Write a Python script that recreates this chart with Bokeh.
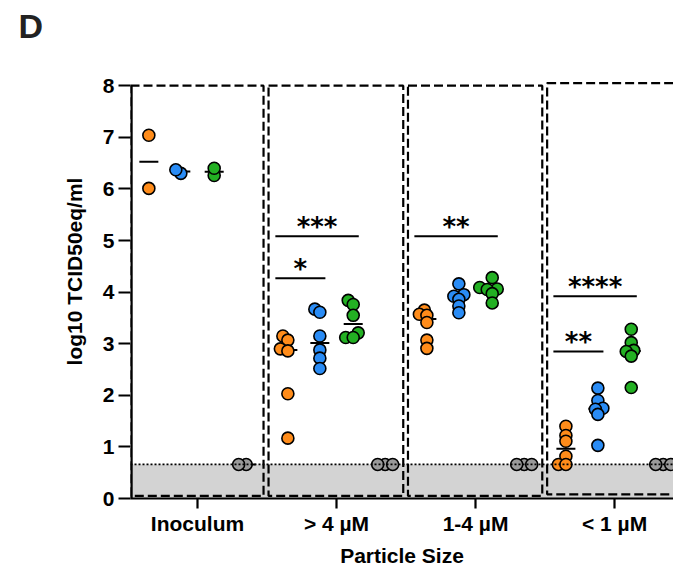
import numpy as np
from bokeh.plotting import figure
from bokeh.models import Range1d, FixedTicker, Span
from bokeh.core.properties import value
from bokeh.embed import file_html
from bokeh.resources import INLINE

# ---------------- data ----------------
categories = ["Inoculum", "> 4 µM", "1-4 µM", "< 1 µM"]
orange = [[7.04, 6.01],
          [3.15, 3.07, 2.90, 2.86, 2.03, 1.17],
          [3.65, 3.57, 3.55, 3.41, 3.07, 2.91],
          [1.40, 1.22, 1.11, 0.82, 0.66, 0.66]]
blue = [[6.30, 6.37],
        [3.67, 3.61, 3.15, 2.88, 2.72, 2.52],
        [4.16, 3.95, 3.92, 3.86, 3.73, 3.60],
        [2.14, 1.90, 1.75, 1.73, 1.63, 1.03]]
green = [[6.26, 6.40],
         [3.84, 3.76, 3.55, 3.21, 3.12, 3.12],
         [4.28, 4.09, 4.06, 4.05, 3.97, 3.79],
         [3.28, 3.02, 2.87, 2.85, 2.76, 2.15]]
gray = [[0.66, 0.66],
        [0.66, 0.66, 0.66],
        [0.66, 0.66, 0.66],
        [0.66, 0.66, 0.66]]
lod = 0.66
y_ticks = [0, 1, 2, 3, 4, 5, 6, 7, 8]

sig_cat = [1, 1, 2, 3, 3]
sig_to = ["green", "blue", "green", "green", "blue"]
sig_y = [5.08, 4.27, 5.08, 3.92, 2.85]
sig_label = ["***", "*", "**", "****", "**"]

# ---------------- layout / style ----------------
W, H = 673, 574
BL, BR, BT, BB = 130, 0, 44, 76
PX_PER_Y = 51.6
X0, X1 = -0.482, 3.424
Y0 = 0.0
Y1 = (H - BT - BB) / PX_PER_Y
Y_TOP = y_ticks[-1]
FONT = "Liberation Sans"

series = [("orange", orange, "#FF8C1A", -0.35),
          ("blue", blue, "#2A8CF5", -0.12),
          ("green", green, "#23B023", 0.12),
          ("gray", gray, "#9A9A9A", 0.35)]
offsets = {name: off for name, _, _, off in series}

frame_w = W - BL - BR
frame_h = H - BT - BB
px_x = frame_w / (X1 - X0)
px_y = frame_h / (Y1 - Y0)


def swarm(vals, step=2.5, mind=5.5):
    vals = np.asarray(vals, dtype=float)
    order = np.argsort(vals)
    placed = []
    offs = np.zeros(len(vals))
    cands = [0]
    for k in range(1, 8):
        cands += [-k, k]
    for i in order:
        yy = vals[i] * px_y
        best = None
        best_score = -1
        for k in cands:
            ox = k * step
            d = min([np.hypot(ox - a, yy - b) for a, b in placed], default=1e9)
            if d >= mind:
                best = ox
                break
            if d > best_score:
                best_score, best = d, ox
        placed.append((best, yy))
        offs[i] = best / px_x
    return offs


p = figure(width=W, height=H, x_range=Range1d(X0, X1), y_range=Range1d(Y0, Y1),
           output_backend="svg", toolbar_location=None,
           min_border_left=BL, min_border_right=BR, min_border_top=BT, min_border_bottom=BB)
p.outline_line_color = None
p.grid.visible = False
p.background_fill_color = "white"

p.title.text = "D"
p.title.align = "left"
p.title.offset = 18 - BL
p.title.text_font = FONT
p.title.text_font_style = "bold"
p.title.text_font_size = "34px"
p.title.text_color = "#222222"
p.title.standoff = 0

# LOD band and dotted line
p.quad(left=[X0 - 1], right=[X1 + 1], bottom=[0], top=[lod], fill_color="#D3D3D3", line_color=None)
p.add_layout(Span(location=lod, dimension="width", line_color="black", line_width=1.8, line_dash="2 2"))

# dashed panel boxes
box_left = [X0, 1 - 0.489, 2 - 0.486, 3 - 0.485]
box_right = [0.475, 1 + 0.48, 2 + 0.48, 4.0]
box_bottom = [0.05, 0.05, 0.05, 0.08]
box_top = [Y_TOP, Y_TOP, Y_TOP, Y_TOP + 0.05]
p.quad(left=box_left, right=box_right, bottom=box_bottom, top=box_top,
       fill_alpha=0, line_color="black", line_width=2.2, line_dash="9 4")

# y axis line drawn only from 0 to 8 (frame-clipped, so double width)
p.segment(x0=[X0], x1=[X0], y0=[0], y1=[Y_TOP], line_color="black", line_width=4.4)

# significance bars
bx0 = [c + offsets["orange"] - 0.09 for c in sig_cat]
bx1 = [c + offsets[t] + 0.04 for c, t in zip(sig_cat, sig_to)]
p.segment(x0=bx0, x1=bx1, y0=sig_y, y1=sig_y, line_color="black", line_width=2)
p.text(x=[(a + b) / 2 for a, b in zip(bx0, bx1)], y=sig_y, text=sig_label,
       text_font=value("DejaVu Sans"), text_font_style="bold", text_font_size="26px",
       text_align="center", text_baseline="alphabetic", y_offset=-9, text_color="black")

# medians + points
for name, data, color, off in series:
    mx, my = [], []
    px_, py_ = [], []
    for ci, vals in enumerate(data):
        mx.append(ci + off)
        my.append(float(np.median(vals)))
        jit = swarm(vals)
        px_ += list(ci + off + jit)
        py_ += list(vals)
    half = 9.5 / px_x
    p.segment(x0=[m - half for m in mx], x1=[m + half for m in mx], y0=my, y1=my,
              line_color="black", line_width=2)
    p.scatter(x=px_, y=py_, size=12, fill_color=color, line_color="black", line_width=1.6)

# axes
for ax in (p.xaxis[0], p.yaxis[0]):
    ax.axis_line_width = 2.2
    ax.major_tick_line_width = 2.2
    ax.minor_tick_line_color = None
    ax.major_tick_in = 0
    ax.major_label_text_font = FONT
    ax.major_label_text_font_style = "bold"
    ax.major_label_text_font_size = "21px"
    ax.major_label_text_color = "black"
    ax.axis_label_text_font = FONT
    ax.axis_label_text_font_style = "bold"
    ax.axis_label_text_font_size = "21px"
    ax.axis_label_text_color = "black"

p.yaxis.axis_line_color = None
p.yaxis.ticker = FixedTicker(ticks=y_ticks)
p.yaxis.major_tick_out = 12
p.yaxis.major_label_standoff = 4
p.yaxis.axis_label = "log10 TCID50eq/ml"
p.yaxis.axis_label_standoff = 14

p.xaxis.ticker = FixedTicker(ticks=list(range(len(categories))))
p.xaxis.major_label_overrides = {i: c for i, c in enumerate(categories)}
p.xaxis.major_tick_out = 10
p.xaxis.major_label_standoff = 3
p.xaxis.axis_label = "Particle Size"
p.xaxis.axis_label_standoff = 6

open("out.html", "w").write(file_html(p, INLINE))
